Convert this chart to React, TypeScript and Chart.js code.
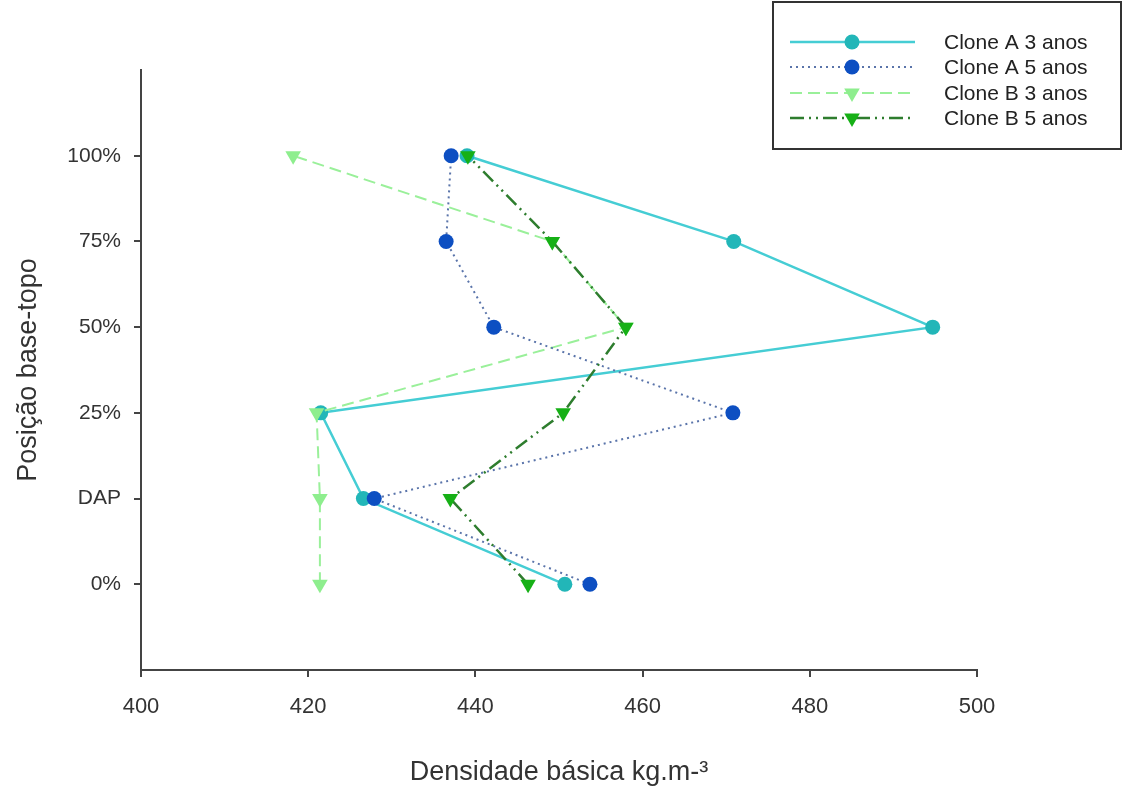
import React, { useEffect, useRef } from "react";
import { Chart, registerables } from "chart.js";

Chart.register(...registerables);

const positionLabels = ["0%", "DAP", "25%", "50%", "75%", "100%"];
const positions = [0, 1, 2, 3, 4, 5];

const cloneA3 = [450.7, 426.6, 421.5, 494.7, 470.9, 439.0];
const cloneA5 = [453.7, 427.9, 470.8, 442.2, 436.5, 437.1];
const cloneB3 = [421.4, 421.4, 421.0, 458.0, 449.2, 418.2];
const cloneB5 = [446.3, 437.0, 450.5, 458.0, 449.2, 439.1];

const seriesNames = ["Clone A 3 anos", "Clone A 5 anos", "Clone B 3 anos", "Clone B 5 anos"];
const xTicks = [400, 420, 440, 460, 480, 500];

const FONT = "'Liberation Sans', Arial, sans-serif";

type Style = {
  line: string;
  marker: string;
  dash: number[];
  shape: "circle" | "triangle";
  radius: number;
  width: number;
};

const styles: Style[] = [
  { line: "#45cdd4", marker: "#22b6b8", dash: [], shape: "circle", radius: 7.5, width: 2.5 },
  { line: "#5a74aa", marker: "#0d4fc2", dash: [2, 4], shape: "circle", radius: 7.5, width: 2 },
  { line: "#9af09a", marker: "#8eee8e", dash: [12, 6], shape: "triangle", radius: 9, width: 2 },
  { line: "#2e7d2e", marker: "#16b016", dash: [14, 5, 2, 5, 2, 5], shape: "triangle", radius: 9, width: 2.5 },
];

const seriesValues = [cloneA3, cloneA5, cloneB3, cloneB5];
const drawOrder = [3, 1, 2, 0];

function drawMarker(ctx: CanvasRenderingContext2D, s: Style, x: number, y: number) {
  ctx.save();
  ctx.setLineDash([]);
  ctx.fillStyle = s.marker;
  ctx.beginPath();
  if (s.shape === "circle") {
    ctx.arc(x, y, s.radius, 0, Math.PI * 2);
  } else {
    const r = s.radius;
    let rad = Math.PI;
    ctx.moveTo(x + Math.sin(rad) * r, y - Math.cos(rad) * r);
    rad += (2 * Math.PI) / 3;
    ctx.lineTo(x + Math.sin(rad) * r, y - Math.cos(rad) * r);
    rad += (2 * Math.PI) / 3;
    ctx.lineTo(x + Math.sin(rad) * r, y - Math.cos(rad) * r);
    ctx.closePath();
  }
  ctx.fill();
  ctx.restore();
}

const legendPlugin = {
  id: "customLegend",
  afterDraw(chart: any) {
    const ctx: CanvasRenderingContext2D = chart.ctx;
    ctx.save();
    ctx.strokeStyle = "#333";
    ctx.lineWidth = 2;
    ctx.setLineDash([]);
    ctx.strokeRect(773, 2, 348, 147);
    const rows = [42, 67, 93, 118];
    seriesNames.forEach((name, i) => {
      const s = styles[i];
      const y = rows[i];
      ctx.save();
      ctx.strokeStyle = s.line;
      ctx.lineWidth = s.width;
      ctx.setLineDash(s.dash);
      ctx.beginPath();
      ctx.moveTo(790, y);
      ctx.lineTo(915, y);
      ctx.stroke();
      ctx.restore();
      drawMarker(ctx, s, 852, y);
      ctx.fillStyle = "#222";
      ctx.font = `21px ${FONT}`;
      ctx.textBaseline = "middle";
      ctx.textAlign = "left";
      ctx.fillText(name, 944, y + 1);
    });
    ctx.restore();
  },
};

export default function App() {
  const ref = useRef<HTMLCanvasElement | null>(null);

  useEffect(() => {
    if (!ref.current) return;
    const datasets = seriesNames.map((name, i) => {
      const s = styles[i];
      return {
        label: name,
        data: positions.map((p, k) => ({ x: seriesValues[i][k], y: p })),
        showLine: true,
        borderColor: s.line,
        borderWidth: s.width,
        borderDash: s.dash,
        backgroundColor: s.marker,
        pointBackgroundColor: s.marker,
        pointBorderColor: s.marker,
        pointBorderWidth: 0,
        pointStyle: s.shape,
        pointRotation: s.shape === "triangle" ? 180 : 0,
        pointRadius: s.radius,
        order: drawOrder[i],
        tension: 0,
      };
    });

    const chart = new Chart(ref.current, {
      type: "scatter",
      data: { datasets },
      plugins: [legendPlugin],
      options: {
        animation: false,
        responsive: false,
        layout: { padding: { left: 0, right: 146, top: 70, bottom: 0 } },
        plugins: {
          legend: { display: false },
          tooltip: { enabled: false },
        },
        scales: {
          x: {
            type: "linear",
            min: 400,
            max: 500,
            afterBuildTicks: (scale: any) => {
              scale.ticks = xTicks.map((v) => ({ value: v }));
            },
            afterFit: (scale: any) => {
              scale.height = 119;
            },
            border: { display: true, color: "#444", width: 2 },
            grid: { display: true, drawOnChartArea: false, drawTicks: true, tickLength: 7, color: "#444", lineWidth: 2 },
            ticks: {
              color: "#333",
              font: { family: FONT, size: 22 },
              padding: 17,
              maxRotation: 0,
            },
            title: {
              display: true,
              text: "Densidade básica kg.m-³",
              color: "#333",
              font: { family: FONT, size: 27 },
              padding: { top: 0, bottom: 0 },
            },
          },
          y: {
            type: "linear",
            min: -1,
            max: 6,
            afterBuildTicks: (scale: any) => {
              scale.ticks = positions.map((v) => ({ value: v }));
            },
            afterFit: (scale: any) => {
              scale.width = 141;
            },
            border: { display: true, color: "#444", width: 2 },
            grid: { display: true, drawOnChartArea: false, drawTicks: true, tickLength: 7, color: "#444", lineWidth: 2 },
            ticks: {
              color: "#333",
              font: { family: FONT, size: 21 },
              padding: 13,
              callback: (v: any) => positionLabels[v as number] ?? "",
            },
            title: {
              display: true,
              text: "Posição base-topo",
              color: "#333",
              font: { family: FONT, size: 27 },
              padding: { top: 12, bottom: 0 },
            },
          },
        },
      } as any,
    });
    return () => chart.destroy();
  }, []);

  return (
    <div style={{ position: "fixed", left: 0, top: 0, width: 1123, height: 789, background: "#fff" }}>
      <canvas ref={ref} width={1123} height={789} style={{ display: "block" }} />
    </div>
  );
}
